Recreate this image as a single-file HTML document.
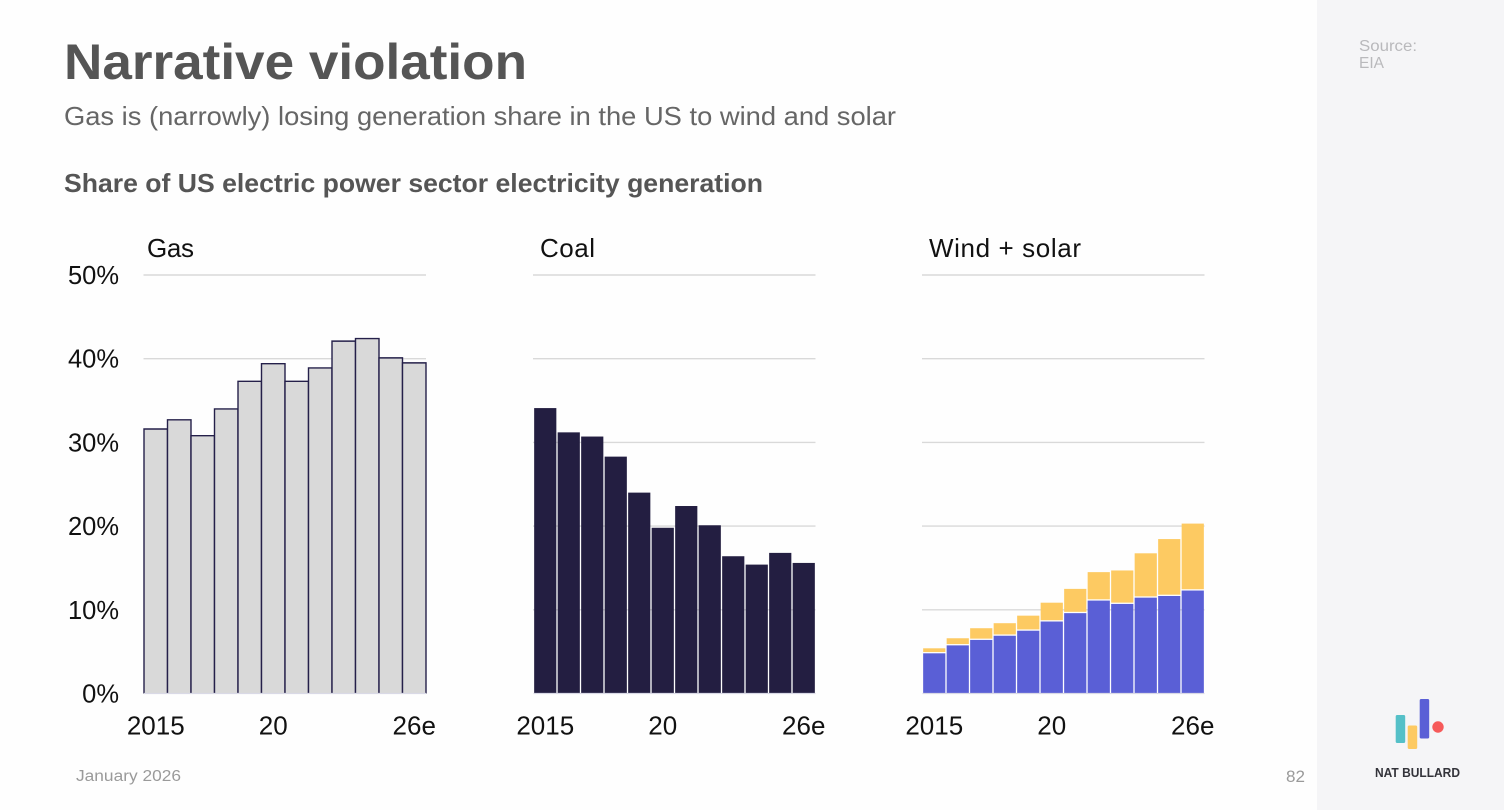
<!DOCTYPE html>
<html lang="en">
<head>
<meta charset="utf-8">
<title>Narrative violation</title>
<style>
html,body{margin:0;padding:0;background:#fff;width:1504px;height:810px;overflow:hidden}
svg{display:block;font-family:"Liberation Sans",sans-serif}
</style>
</head>
<body>
<svg id="slide" xmlns="http://www.w3.org/2000/svg" width="1504" height="810" viewBox="0 0 1504 810">
<rect x="0" y="0" width="1504" height="810" fill="#fefefe"/>
<rect x="1317" y="0" width="187" height="810" fill="#f5f5f7"/>
<text x="64" y="79" font-size="50" font-weight="700" fill="#555555" textLength="463" lengthAdjust="spacingAndGlyphs">Narrative violation</text>
<text x="64" y="125" font-size="26" fill="#666666" textLength="832" lengthAdjust="spacingAndGlyphs">Gas is (narrowly) losing generation share in the US to wind and solar</text>
<text x="64" y="192" font-size="26" font-weight="700" fill="#555555" textLength="699" lengthAdjust="spacingAndGlyphs">Share of US electric power sector electricity generation</text>
<text x="1359" y="51" font-size="15.5" fill="#b9b9bc" textLength="58" lengthAdjust="spacingAndGlyphs">Source:</text>
<text x="1359" y="68" font-size="15.5" fill="#b9b9bc" textLength="25" lengthAdjust="spacingAndGlyphs">EIA</text>
<text x="76" y="781" font-size="15.5" fill="#9a9a9a" textLength="105" lengthAdjust="spacingAndGlyphs">January 2026</text>
<text x="1286" y="782" font-size="16.5" fill="#9a9a9a" textLength="19" lengthAdjust="spacingAndGlyphs">82</text>
<g>
<rect x="1395.7" y="715" width="9.5" height="28" rx="1.5" fill="#55c0c8"/>
<rect x="1407.7" y="725.5" width="9.5" height="23.5" rx="1.5" fill="#fdca62"/>
<rect x="1419.7" y="699" width="9.5" height="39.5" rx="1.5" fill="#5a5fd6"/>
<circle cx="1438" cy="727" r="5.7" fill="#f65a5a"/>
<text x="1375" y="777" font-size="12.5" font-weight="700" fill="#33333a" textLength="85" lengthAdjust="spacingAndGlyphs">NAT BULLARD</text>
</g>
<g id="charts"></g>
</svg>
<script>
const categories = ["2015","2016","2017","2018","2019","2020","2021","2022","2023","2024","2025","2026e"];
const yTicks = [0,10,20,30,40,50];
const yTickLabels = ["0%","10%","20%","30%","40%","50%"];
const xTickYears = ["2015","2020","2026e"];
const xTickLabels = ["2015","20","26e"];
const gasShare = [31.6,32.7,30.8,34.0,37.3,39.4,37.3,38.9,42.1,42.4,40.1,39.5];
const coalShare = [34.1,31.2,30.7,28.3,24.0,19.8,22.4,20.1,16.4,15.4,16.8,15.6];
const windShare = [4.8,5.75,6.4,6.9,7.5,8.6,9.6,11.1,10.7,11.45,11.65,12.3];
const solarShare = [0.6,0.85,1.4,1.5,1.8,2.25,2.9,3.4,4.0,5.3,6.8,8.0];

const NS = "http://www.w3.org/2000/svg";
const root = document.getElementById("charts");
const PLOT_TOP = 275, PLOT_BOTTOM = 693.5, Y_MAX = 50, BAND = 23.5, GAP = 1.3;

function yScale(v){ return PLOT_BOTTOM - (v / Y_MAX) * (PLOT_BOTTOM - PLOT_TOP); }
function xScale(left, i){ return left + i * BAND; }
function make(tag, parent, attrs){
  const el = document.createElementNS(NS, tag);
  for (const k in attrs) el.setAttribute(k, attrs[k]);
  parent.appendChild(el);
  return el;
}

function drawAxes(g, left, title, titleX, titleWidth, showY){
  yTicks.forEach(function(t, i){
    if (t > 0) {
      const grid = make("line", g, {x1:left - 0.5, x2:left + BAND * 12, y1:yScale(t), y2:yScale(t), stroke:"#d9d9d9", "stroke-width":1.4});
      
      
    }
    if (showY) {
      const lab = make("text", g, {x:119, y:yScale(t) + 9, "font-size":25.5, "text-anchor":"end", fill:"#111111"});
      lab.textContent = yTickLabels[i];
      
      
    }
  });
  xTickYears.forEach(function(year, i){
    const idx = categories.indexOf(year);
    const lab = make("text", g, {x:xScale(left, idx) + BAND / 2, y:734.5, "font-size":26, "text-anchor":"middle", fill:"#111111"});
    lab.textContent = xTickLabels[i];
    
    
  });
  const head = make("text", g, {x:titleX, y:257, "font-size":26, textLength:titleWidth, fill:"#111111"});
  head.textContent = title;
  
  
}

function drawBaseline(g, left){
  const base = make("line", g, {x1:left, x2:left + BAND * 12, y1:PLOT_BOTTOM, y2:PLOT_BOTTOM, stroke:"#d9d9e6", "stroke-width":1.2});
  
  
}

function drawBar(g, left, i, from, to, fill, topInset){
  const y0 = yScale(from) - topInset, y1 = yScale(to);
  return make("rect", g, {x:xScale(left, i) + GAP / 2, y:y1, width:BAND - GAP, height:Math.max(0, y0 - y1), fill:fill});
}

const gasPanel = make("g", root, {});


drawAxes(gasPanel, 144, "Gas", 147, 47, true);
gasShare.forEach(function(v, i){
  const x0 = xScale(144, i), x1 = xScale(144, i + 1), y0 = yScale(0), y1 = yScale(v);
  const bar = make("path", gasPanel, {d:"M" + x0 + " " + y0 + "V" + y1 + "H" + x1 + "V" + y0, fill:"#d9d9d9", stroke:"#25204a", "stroke-width":1.4});
  
  
});
drawBaseline(gasPanel, 144);

const coalPanel = make("g", root, {});


drawAxes(coalPanel, 533.5, "Coal", 540, 55, false);
coalShare.forEach(function(v, i){
  const bar = drawBar(coalPanel, 533.5, i, 0, v, "#231e41", 0);
  
  
});
drawBaseline(coalPanel, 533.5);

const windPanel = make("g", root, {});


drawAxes(windPanel, 922.5, "Wind + solar", 929, 152, false);
windShare.forEach(function(v, i){
  const wind = drawBar(windPanel, 922.5, i, 0, v, "#5a5fd6", 0);
  
  
  const solar = drawBar(windPanel, 922.5, i, v, v + solarShare[i], "#fdca62", GAP);
  
  
});
drawBaseline(windPanel, 922.5);
</script>
</body>
</html>
